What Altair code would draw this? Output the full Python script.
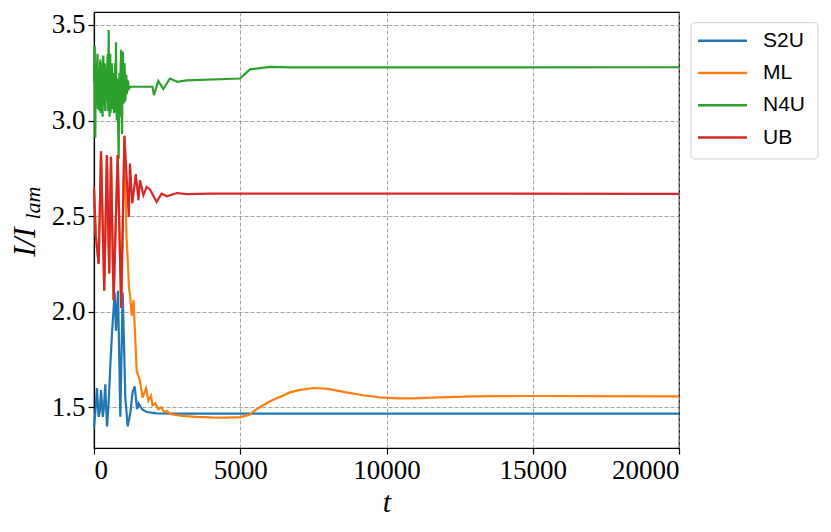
import altair as alt
import pandas as pd

series = ["S2U", "ML", "N4U", "UB"]
colors = ["#1f77b4", "#ff7f0e", "#2ca02c", "#d62728"]

s2u_t = [0, 60, 100, 160, 200, 240, 300, 340, 385, 445, 500, 530, 558, 620, 707, 752, 821, 900, 981, 1071,
         1152, 1242, 1320, 1392, 1470, 1527, 1641, 1800, 2144, 3000, 20000]
s2u_v = [1.39, 1.50, 1.60, 1.45, 1.48, 1.59, 1.45, 1.50, 1.62, 1.40, 1.52, 1.62, 1.72, 1.90, 2.10, 1.90, 2.11,
         1.45, 2.10, 1.55, 1.40, 1.47, 1.58, 1.61, 1.49, 1.52, 1.49, 1.475, 1.468, 1.467, 1.467]

ub_t = [0, 60, 160, 240, 350, 440, 520, 580, 670, 810, 930, 1040, 1190, 1230, 1310, 1430, 1520, 1570, 1690,
        1800, 1915, 2140, 2310, 2490, 2830, 3170, 4000, 20000]
ub_v = [2.65, 2.40, 2.25, 2.84, 2.11, 2.82, 2.20, 2.81, 2.06, 2.82, 2.02, 2.92, 2.495, 2.775, 2.567, 2.72, 2.583,
        2.688, 2.609, 2.653, 2.64, 2.574, 2.618, 2.604, 2.621, 2.615, 2.618, 2.617]

ml_t = [0, 60, 160, 240, 350, 440, 520, 580, 670, 810, 930, 1040, 1110, 1150, 1200, 1230, 1290, 1350, 1400,
        1460, 1570, 1660, 1780, 1860, 1950, 2000, 2100, 2200, 2300, 2400, 2500, 2600, 2800, 3000, 3500, 4000,
        4500, 5000, 5300, 5560, 6000, 6700, 7000, 7500, 8000, 8630, 9200, 9780, 10400, 10920, 11800, 12630,
        13500, 14900, 17000, 20000]
ml_v = [2.65, 2.40, 2.25, 2.84, 2.11, 2.82, 2.20, 2.81, 2.06, 2.82, 2.02, 2.92, 2.40, 2.28, 2.12, 2.09, 1.98,
        2.06, 1.90, 1.69, 1.64, 1.55, 1.60, 1.535, 1.56, 1.51, 1.52, 1.49, 1.50, 1.475, 1.48, 1.465, 1.46, 1.455,
        1.45, 1.447, 1.446, 1.449, 1.46, 1.49, 1.53, 1.578, 1.59, 1.601, 1.596, 1.578, 1.563, 1.552, 1.547,
        1.547, 1.552, 1.556, 1.558, 1.559, 1.558, 1.557]

n4u_t = [0, 12, 25, 37, 45, 57, 70, 82, 95, 107, 120, 132, 145, 157, 170, 182, 195, 207, 220, 232,
         245, 257, 270, 282, 295, 307, 320, 332, 345, 357, 370, 382, 395, 407, 420, 432, 445, 457, 470, 485,
         502, 515, 530, 542, 555, 567, 580, 595, 610, 625, 640, 655, 670, 685, 700, 715, 730, 742, 752, 765,
         780, 795, 810, 827, 844, 857, 870, 885, 900, 915, 930, 945, 960, 975, 992, 1005, 1020, 1035, 1050, 1065,
         1080, 1095, 1110, 1125, 1140, 1155, 1170, 1185, 1200, 1250,
         2000, 2050, 2198, 2370, 2598, 2848, 3170, 4990, 5333, 6017, 6700, 20000]
n4u_v = [3.20, 3.36, 3.39, 3.05, 2.91, 3.25, 3.30, 3.08, 3.12, 3.30, 3.35, 3.06, 3.10, 3.24, 3.28, 3.05, 3.12, 3.30, 3.32, 3.04,
         3.05, 3.26, 3.30, 3.06, 3.02, 3.28, 3.34, 3.08, 3.10, 3.27, 3.30, 3.05, 3.07, 3.25, 3.28, 3.10, 3.12, 3.30, 3.35, 3.05,
         3.474, 3.10, 3.02, 3.30, 3.35, 3.04, 3.09, 3.26, 3.30, 3.06, 3.10, 3.22, 3.25, 3.04, 3.05, 3.28, 3.30, 3.08, 3.41, 3.10,
         3.00, 3.22, 3.20, 2.95, 2.80, 3.10, 3.25, 3.02, 3.10, 3.30, 3.37, 3.05, 2.93, 3.25, 3.36, 3.12, 3.09, 3.30, 3.28, 3.10,
         3.12, 3.24, 3.23, 3.14, 3.16, 3.21, 3.20, 3.16, 3.17, 3.177,
         3.177, 3.133, 3.208, 3.165, 3.22, 3.203, 3.21, 3.22, 3.268, 3.281, 3.278, 3.279]

x_ticks = [0, 5000, 10000, 15000, 20000]
y_ticks = [1.5, 2.0, 2.5, 3.0, 3.5]

rows = []
for name, ts, vs in [("S2U", s2u_t, s2u_v), ("ML", ml_t, ml_v), ("N4U", n4u_t, n4u_v), ("UB", ub_t, ub_v)]:
    for i, (t, v) in enumerate(zip(ts, vs, strict=True)):
        rows.append({"series": name, "t": t, "v": v, "k": i})
df = pd.DataFrame(rows)

color = alt.Color("series:N", scale=alt.Scale(domain=series, range=colors), legend=None)

lines = alt.Chart(df).mark_line(strokeWidth=2.2).encode(
    x=alt.X("t:Q", scale=alt.Scale(domain=[0, 20000], nice=False, zero=False),
            axis=alt.Axis(values=x_ticks, format="d", title="t", titleFontStyle="italic",
                          titleFontSize=30, titleFontWeight="normal", titlePadding=4)),
    y=alt.Y("v:Q", scale=alt.Scale(domain=[1.287, 3.568], nice=False, zero=False),
            axis=alt.Axis(values=y_ticks, format=".1f", title=None)),
    color=color,
    order="k:Q",
)

one = pd.DataFrame({"a": [0]})
leg_box = alt.Chart(one).mark_rect(fill="white", stroke="#cccccc", strokeWidth=1, cornerRadius=4).encode(
    x=alt.value(597), x2=alt.value(724), y=alt.value(10.7), y2=alt.value(147))

leg_df = pd.DataFrame({"series": series})
leg_y = alt.Y("series:N", scale=alt.Scale(type="point", domain=series, range=[28.7, 125.6], padding=0), axis=None)
leg_lines = alt.Chart(leg_df).mark_rule(strokeWidth=2.5).encode(
    x=alt.value(604), x2=alt.value(653), y=leg_y, color=color)
leg_text = alt.Chart(leg_df).mark_text(align="left", baseline="middle", font="Liberation Sans",
                                       fontSize=21, color="black").encode(
    x=alt.value(669), y=leg_y, text="series:N")
legend = alt.layer(leg_box, leg_lines, leg_text)

ytitle1 = alt.Chart(one).mark_text(angle=270, align="center", baseline="alphabetic", font="Liberation Serif",
                                   fontStyle="italic", fontSize=31, color="black").encode(
    x=alt.value(-59), y=alt.value(230), text=alt.value("I/I"))
ytitle2 = alt.Chart(one).mark_text(angle=270, align="center", baseline="alphabetic", font="Liberation Serif",
                                   fontStyle="italic", fontSize=22, color="black").encode(
    x=alt.value(-54), y=alt.value(191), text=alt.value("lam"))

chart = alt.layer(lines, ytitle1, ytitle2, legend).resolve_scale(y="independent").properties(
    width=585, height=436,
    autosize=alt.AutoSizeParams(type="none"),
    padding={"left": 86, "top": 4, "right": 140, "bottom": 70},
).configure_view(stroke="black", strokeWidth=1.2).configure_axis(
    labelFont="Liberation Serif", labelFontSize=27, labelColor="black",
    titleFont="Liberation Serif", titleColor="black",
    domainColor="black", domainWidth=1.2, tickColor="black", tickSize=6, tickWidth=1.2,
    labelPadding=3,
    grid=True, gridColor="#8c8c8c", gridDash=[4, 2], gridWidth=0.8,
)

chart.save("out.html", embed_options={"renderer": "svg", "actions": False})
